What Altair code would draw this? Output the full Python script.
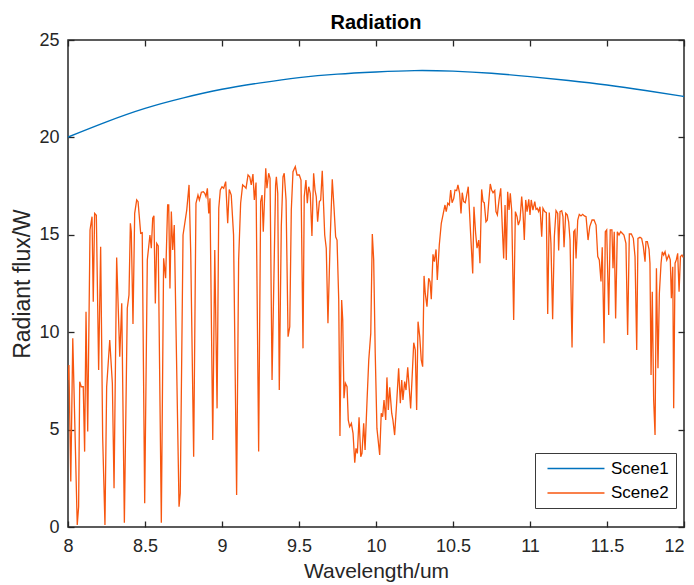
import altair as alt
import pandas as pd

# ---------------- data ----------------
series_names = ["Scene1", "Scene2"]
series_colors = ["#0072BD", "#F7560F"]

scene1_wl = [8.0, 8.25, 8.5, 8.75, 9.0, 9.25, 9.5, 9.75, 10.0, 10.25, 10.5,
             10.75, 11.0, 11.25, 11.5, 11.75, 12.0]
scene1_flux = [20.02, 20.80, 21.49, 22.03, 22.47, 22.80, 23.07, 23.25, 23.36,
               23.43, 23.40, 23.29, 23.12, 22.92, 22.69, 22.41, 22.10]

scene2_wl = [
    8.000, 8.006, 8.018, 8.031, 8.060, 8.069, 8.076, 8.086, 8.099, 8.108,
    8.117, 8.128, 8.143, 8.156, 8.164, 8.173, 8.184, 8.199, 8.212, 8.225,
    8.240, 8.251, 8.271, 8.288, 8.299, 8.316, 8.336, 8.349, 8.366, 8.385,
    8.396, 8.405, 8.411, 8.422, 8.433, 8.446, 8.455, 8.472, 8.482, 8.498,
    8.515, 8.532, 8.541, 8.550, 8.558, 8.567, 8.576, 8.586, 8.606, 8.621,
    8.634, 8.647, 8.654, 8.662, 8.671, 8.680, 8.690, 8.721, 8.729, 8.747,
    8.771, 8.786, 8.797, 8.816, 8.831, 8.844, 8.853, 8.866, 8.879, 8.888,
    8.896, 8.905, 8.914, 8.922, 8.940, 8.953, 8.968, 8.979, 8.989, 9.000,
    9.011, 9.024, 9.037, 9.047, 9.060, 9.075, 9.095, 9.108, 9.121, 9.134,
    9.147, 9.156, 9.169, 9.180, 9.190, 9.201, 9.210, 9.221, 9.238, 9.251,
    9.260, 9.268, 9.284, 9.292, 9.303, 9.312, 9.325, 9.348, 9.353, 9.362,
    9.372, 9.385, 9.396, 9.404, 9.416, 9.429, 9.440, 9.450, 9.461, 9.476,
    9.487, 9.502, 9.513, 9.526, 9.534, 9.545, 9.554, 9.563, 9.573, 9.584,
    9.595, 9.604, 9.612, 9.621, 9.632, 9.641, 9.651, 9.667, 9.677, 9.688,
    9.703, 9.716, 9.727, 9.738, 9.747, 9.758, 9.766, 9.777, 9.784, 9.792,
    9.801, 9.812, 9.820, 9.829, 9.840, 9.851, 9.862, 9.870, 9.879, 9.890,
    9.901, 9.909, 9.920, 9.929, 9.942, 9.953, 9.966, 9.976, 9.985, 9.995,
    10.006, 10.024, 10.034, 10.043, 10.052, 10.063, 10.071, 10.080, 10.089, 10.102,
    10.110, 10.121, 10.134, 10.147, 10.158, 10.167, 10.175, 10.186, 10.195, 10.206,
    10.225, 10.245, 10.255, 10.264, 10.273, 10.284, 10.294, 10.303, 10.312, 10.320,
    10.331, 10.342, 10.351, 10.359, 10.370, 10.379, 10.390, 10.398, 10.411, 10.424,
    10.437, 10.448, 10.456, 10.466, 10.476, 10.485, 10.494, 10.505, 10.513, 10.524,
    10.532, 10.543, 10.552, 10.560, 10.569, 10.580, 10.589, 10.599, 10.612, 10.628,
    10.636, 10.647, 10.656, 10.667, 10.675, 10.686, 10.695, 10.703, 10.714, 10.723,
    10.734, 10.742, 10.751, 10.760, 10.771, 10.779, 10.788, 10.799, 10.810, 10.820,
    10.829, 10.838, 10.846, 10.855, 10.864, 10.872, 10.881, 10.894, 10.905, 10.916,
    10.924, 10.935, 10.946, 10.955, 10.963, 10.972, 10.981, 10.992, 11.000, 11.008,
    11.019, 11.031, 11.039, 11.047, 11.056, 11.065, 11.076, 11.084, 11.095, 11.106,
    11.115, 11.125, 11.136, 11.147, 11.158, 11.169, 11.180, 11.186, 11.195, 11.206,
    11.214, 11.221, 11.232, 11.242, 11.251, 11.260, 11.273, 11.284, 11.292, 11.299,
    11.310, 11.320, 11.331, 11.342, 11.353, 11.364, 11.377, 11.388, 11.403, 11.416,
    11.429, 11.440, 11.450, 11.461, 11.469, 11.481, 11.489, 11.498, 11.511, 11.521,
    11.532, 11.539, 11.547, 11.556, 11.567, 11.578, 11.589, 11.599, 11.610, 11.623,
    11.634, 11.645, 11.658, 11.671, 11.682, 11.693, 11.701, 11.714, 11.725, 11.736,
    11.747, 11.753, 11.762, 11.773, 11.779, 11.786, 11.794, 11.803, 11.812, 11.821,
    11.831, 11.840, 11.851, 11.859, 11.868, 11.877, 11.888, 11.901, 11.911, 11.918,
    11.927, 11.933, 11.942, 11.950, 11.959, 11.968, 11.977, 11.987, 11.995,
]
scene2_flux = [
    7.55, 8.32, 2.33, 9.69, 0.10, 1.04, 7.46, 7.20, 7.20, 3.87,
    11.05, 4.90, 15.25, 15.93, 11.57, 16.10, 16.00, 8.06, 14.39, 4.64,
    0.10, 7.20, 9.60, 7.38, 1.99, 13.84, 8.74, 11.48, 0.22, 11.23,
    11.91, 15.59, 15.16, 10.42, 16.10, 16.79, 16.70, 15.08, 15.11, 1.22,
    13.71, 14.99, 14.31, 15.85, 15.98, 11.48, 14.56, 14.43, 0.22, 13.79,
    12.77, 16.53, 16.53, 12.25, 16.19, 14.22, 15.50, 1.04, 1.73, 14.99,
    16.27, 17.56, 14.05, 3.61, 16.62, 17.04, 16.79, 17.18, 17.21, 17.13,
    16.96, 17.39, 16.10, 16.87, 4.47, 14.22, 6.09, 16.36, 17.30, 17.47,
    17.39, 17.73, 15.59, 17.33, 17.04, 15.00, 1.64, 13.71, 16.62, 17.56,
    17.47, 17.39, 18.07, 17.98, 17.56, 18.12, 16.79, 17.68, 3.87, 16.70,
    17.04, 15.16, 18.41, 17.39, 18.16, 17.90, 7.55, 17.56, 17.98, 17.13,
    7.03, 15.42, 17.98, 18.16, 16.79, 9.77, 10.28, 16.27, 18.24, 18.50,
    18.07, 18.07, 17.81, 9.17, 16.96, 17.81, 16.62, 17.47, 17.13, 14.94,
    18.16, 17.30, 16.96, 15.67, 16.70, 16.79, 18.29, 14.99, 14.31, 10.46,
    14.90, 17.85, 16.44, 14.90, 14.73, 11.65, 4.67, 11.65, 10.63, 6.61,
    7.38, 7.20, 5.49, 5.15, 5.32, 4.81, 3.30, 4.04, 3.78, 5.63,
    3.61, 3.78, 5.32, 3.95, 6.52, 8.57, 9.94, 15.04, 13.71, 8.92,
    5.06, 3.70, 5.84, 5.66, 6.52, 5.49, 7.68, 6.01, 7.17, 5.84,
    5.49, 4.72, 6.35, 8.15, 6.35, 7.55, 6.52, 7.46, 7.03, 8.20,
    6.09, 9.46, 9.09, 6.01, 10.54, 9.77, 8.57, 8.23, 12.89, 11.99,
    11.31, 12.77, 12.60, 11.69, 14.00, 13.62, 14.25, 12.68, 14.48, 15.59,
    16.10, 16.53, 16.19, 16.62, 16.53, 17.30, 16.65, 16.87, 17.30, 17.27,
    17.56, 17.13, 16.10, 17.16, 16.70, 16.65, 17.04, 17.47, 15.42, 13.02,
    16.44, 15.08, 14.31, 14.73, 13.54, 17.33, 16.70, 16.65, 15.67, 15.76,
    16.87, 17.61, 17.30, 17.16, 17.27, 16.19, 16.02, 16.79, 17.39, 15.42,
    13.79, 16.53, 13.71, 17.21, 16.27, 17.13, 16.27, 10.63, 16.19, 15.93,
    15.50, 15.76, 16.96, 16.10, 14.73, 16.79, 16.19, 16.82, 16.02, 16.79,
    16.27, 16.70, 16.31, 16.36, 16.19, 16.44, 14.90, 16.36, 16.19, 16.14,
    10.93, 16.14, 14.56, 10.66, 14.90, 16.24, 16.10, 14.19, 16.19, 16.24,
    15.93, 14.36, 16.10, 16.02, 15.67, 14.73, 9.22, 15.16, 15.25, 13.79,
    15.76, 16.05, 15.97, 16.05, 15.97, 15.93, 14.73, 15.42, 15.76, 15.76,
    15.50, 13.88, 13.71, 12.60, 14.36, 9.43, 15.16, 15.25, 10.88, 15.25,
    15.25, 13.28, 15.16, 10.71, 15.16, 14.99, 15.16, 15.08, 14.99, 14.56,
    9.86, 15.04, 15.04, 14.82, 13.88, 9.09, 14.82, 14.87, 14.82, 14.39,
    13.62, 14.65, 14.65, 14.25, 13.54, 7.80, 12.08, 6.52, 4.72, 13.28,
    8.15, 11.99, 13.54, 14.13, 13.96, 14.13, 13.71, 13.96, 13.71, 11.74,
    13.36, 6.09, 13.54, 13.71, 14.05, 12.08, 13.88, 13.96, 13.84,
]

x_ticks = [8, 8.5, 9, 9.5, 10, 10.5, 11, 11.5, 12]
y_ticks = [0, 5, 10, 15, 20, 25]

df = pd.concat([
    pd.DataFrame({"wl": scene1_wl, "flux": scene1_flux, "series": series_names[0]}),
    pd.DataFrame({"wl": scene2_wl, "flux": scene2_flux, "series": series_names[1]}),
], ignore_index=True)

# ---------------- chart ----------------
W, H = 616, 487
FONT = "Liberation Sans"
AX = "#262626"

xs = alt.Scale(domain=[8, 12], nice=False, zero=False)
ys = alt.Scale(domain=[0, 25], nice=False, zero=False)

base = alt.Chart(df)

scene1 = base.transform_filter(alt.datum.series == series_names[0]).mark_line(
    strokeWidth=1.4, clip=True, interpolate="natural")
scene2 = base.transform_filter(alt.datum.series == series_names[1]).mark_line(
    strokeWidth=1.3, clip=True)

enc = dict(
    x=alt.X("wl:Q", scale=xs, axis=alt.Axis(
        orient="bottom", values=x_ticks, format="~g", title="Wavelength/um",
        ticks=False, domain=False, grid=False, labelFlush=False,
        labelAlign={"condition": {"test": "datum.value >= 12", "value": "right"},
                    "value": "center"},
        labelFont=FONT, labelFontSize=18, labelColor=AX, labelPadding=10,
        titleFont=FONT, titleFontSize=21, titleFontWeight="normal",
        titleColor=AX, titlePadding=5)),
    y=alt.Y("flux:Q", scale=ys, axis=alt.Axis(
        orient="left", values=y_ticks, title="Radiant flux/W",
        ticks=False, domain=False, grid=False, labelFlush=False,
        labelFont=FONT, labelFontSize=18, labelColor=AX, labelPadding=9,
        titleFont=FONT, titleFontSize=23, titleFontWeight="normal",
        titleColor=AX, titlePadding=4)),
    color=alt.Color("series:N",
                    scale=alt.Scale(domain=series_names, range=series_colors),
                    legend=alt.Legend(
                        title=None, orient="none", legendX=467, legendY=413,
                        direction="vertical", symbolType="M-0.43,0H7.71",
                        symbolSize=196, symbolStrokeWidth=1.5,
                        labelFont=FONT, labelFontSize=17, labelColor="black",
                        labelOffset=52, rowPadding=6.4, padding=7,
                        strokeColor="#3a3a3a", fillColor="white")),
)

lines = alt.layer(scene1.encode(**enc), scene2.encode(**enc))

tick_common = dict(labels=False, domain=False, grid=False, ticks=True,
                   tickSize=6, tickColor=AX, tickWidth=1.3, title="")

# inward ticks on bottom and left edges
ticks_a = base.mark_line(opacity=0).encode(
    x=alt.X("wl:Q", scale=xs, axis=alt.Axis(orient="top", offset=-H,
                                            values=x_ticks, **tick_common)),
    y=alt.Y("flux:Q", scale=ys, axis=alt.Axis(orient="right", offset=-W,
                                              values=y_ticks, **tick_common)),
)
# inward ticks on top and right edges
ticks_b = base.mark_line(opacity=0).encode(
    x=alt.X("wl:Q", scale=xs, axis=alt.Axis(orient="bottom", offset=-H,
                                            values=x_ticks, **tick_common)),
    y=alt.Y("flux:Q", scale=ys, axis=alt.Axis(orient="left", offset=-W,
                                              values=y_ticks, **tick_common)),
)

chart = alt.layer(lines, ticks_a, ticks_b).resolve_axis(
    x="independent", y="independent"
).properties(
    width=W, height=H,
    autosize=alt.AutoSizeParams(type="none"),
    padding={"left": 60, "top": 32, "right": 2, "bottom": 58},
    title=alt.TitleParams("Radiation", font=FONT, fontSize=20,
                          fontWeight="bold", color="black",
                          anchor="middle", offset=-2, frame="group"),
    background="white",
).configure_view(stroke=AX, strokeWidth=1.5)

chart.save("out.html", embed_options={"renderer": "svg", "actions": False})
